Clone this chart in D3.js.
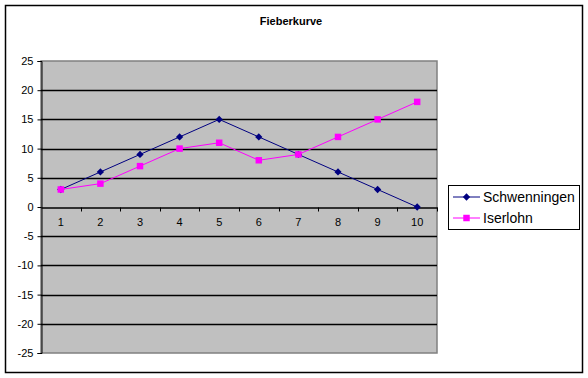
<!DOCTYPE html>
<html>
<head>
<meta charset="utf-8">
<script src="https://cdn.jsdelivr.net/npm/d3@7"></script>
<style>
  body { margin: 0; background: #fff; }
  text { font-family: Arial, "Liberation Sans", sans-serif; }
</style>
</head>
<body>
<div id="chart"></div>
<script>
// Chart data
const categories = ["1", "2", "3", "4", "5", "6", "7", "8", "9", "10"]
const schwenningen = [3, 6, 9, 12, 15, 12, 9, 6, 3, 0]
const iserlohn = [3, 4, 7, 10, 11, 8, 9, 12, 15, 18]
const yTicks = [-25, -20, -15, -10, -5, 0, 5, 10, 15, 20, 25]
const seriesNames = ["Schwenningen", "Iserlohn"]

const width = 588, height = 378
const plot = { left: 41, top: 61, right: 437, bottom: 353 }

const svg = d3.select("#chart").append("svg")
    .attr("width", width)
    .attr("height", height)

// Outer chart border
svg.append("rect")
    .attr("x", 5.5).attr("y", 5.5)
    .attr("width", 577).attr("height", 367)
    .attr("fill", "#fff")
    .attr("stroke", "#000")
    .attr("stroke-width", 1.5)

// Title
svg.append("text")
    .attr("x", 291).attr("y", 25)
    .attr("text-anchor", "middle")
    .attr("font-size", "11px")
    .attr("font-weight", "bold")
    .text("Fieberkurve")

// Scales
const xScale = d3.scaleBand()
    .domain(categories)
    .range([plot.left, plot.right])

const yScale = d3.scaleLinear()
    .domain([-25, 25])
    .range([plot.bottom, plot.top])

// Plot area background
svg.append("rect")
    .attr("x", plot.left).attr("y", plot.top)
    .attr("width", plot.right - plot.left)
    .attr("height", plot.bottom - plot.top)
    .attr("fill", "#c0c0c0")
    .attr("stroke", "#808080")
    .attr("stroke-width", 1.5)

// Gridlines
svg.append("g")
    .selectAll("line")
    .data(yTicks.filter(d => d != -25 && d != 25 && d != 0))
    .enter()
    .append("line")
    .attr("x1", plot.left).attr("x2", plot.right)
    .attr("y1", d => Math.round(yScale(d)) + 0.5)
    .attr("y2", d => Math.round(yScale(d)) + 0.5)
    .attr("stroke", "#000")
    .attr("stroke-width", 1.3)

// Y axis (plain hyphen for negatives, like Excel)
const yAxis = d3.axisLeft(yScale).tickValues(yTicks).tickSize(4).tickPadding(4)
    .tickFormat(d => String(d))
const yG = svg.append("g")
    .attr("transform", "translate(" + (plot.left + 0.5) + ",0)")
    .call(yAxis)
yG.select(".domain").attr("stroke", "#000")
yG.selectAll(".tick line").attr("stroke", "#000")
yG.selectAll("text").attr("font-size", "11px").attr("fill", "#000")
    .attr("font-family", "Arial, 'Liberation Sans', sans-serif")

// X axis at zero, ticks between categories
const xAxis = d3.axisBottom(xScale).tickSize(0).tickPadding(11)
const xG = svg.append("g")
    .attr("transform", "translate(0," + (Math.round(yScale(0)) + 0.5) + ")")
    .call(xAxis)
xG.select(".domain").attr("stroke", "#000").attr("stroke-width", 1.3)
xG.selectAll("text").attr("font-size", "11px").attr("fill", "#000")
    .attr("font-family", "Arial, 'Liberation Sans', sans-serif")
xG.selectAll(".boundary")
    .data(categories.slice(1).concat(["end"]))
    .enter()
    .append("line")
    .attr("x1", (d, i) => Math.round(plot.left + xScale.step() * (i + 1)) + 0.5)
    .attr("x2", (d, i) => Math.round(plot.left + xScale.step() * (i + 1)) + 0.5)
    .attr("y1", 0).attr("y2", 4)
    .attr("stroke", "#000")

// Series
const colors = ["#000080", "#ff00ff"]
const seriesData = [schwenningen, iserlohn]
const symbols = [d3.symbolDiamond2, d3.symbolSquare]
const symSizes = [34, 42]
const line = d3.line()
    .x((d, i) => xScale(categories[i]) + xScale.bandwidth() / 2)
    .y(d => yScale(d))

seriesData.forEach((values, s) => {
    svg.append("path")
        .datum(values)
        .attr("d", line)
        .attr("fill", "none")
        .attr("stroke", colors[s])
        .attr("stroke-width", 1)

    svg.append("g")
        .selectAll("path")
        .data(values)
        .enter()
        .append("path")
        .attr("d", d3.symbol().type(symbols[s]).size(symSizes[s]))
        .attr("transform", (d, i) => "translate(" + (xScale(categories[i]) + xScale.bandwidth() / 2) + "," + yScale(d) + ")")
        .attr("fill", colors[s])
})

// Legend
const legend = svg.append("g").attr("transform", "translate(448,185)")
legend.append("rect")
    .attr("x", 0.5).attr("y", 0.5)
    .attr("width", 131).attr("height", 44)
    .attr("fill", "#fff")
    .attr("stroke", "#000")
seriesNames.forEach((name, s) => {
    const y = 12 + s * 21
    legend.append("line")
        .attr("x1", 5).attr("x2", 32)
        .attr("y1", y).attr("y2", y)
        .attr("stroke", colors[s])
    legend.append("path")
        .attr("d", d3.symbol().type(symbols[s]).size(symSizes[s]))
        .attr("transform", "translate(18.5," + y + ")")
        .attr("fill", colors[s])
    legend.append("text")
        .attr("x", 35).attr("y", y + 5)
        .attr("font-size", "14px")
        .text(name)
})
</script>
</body>
</html>
